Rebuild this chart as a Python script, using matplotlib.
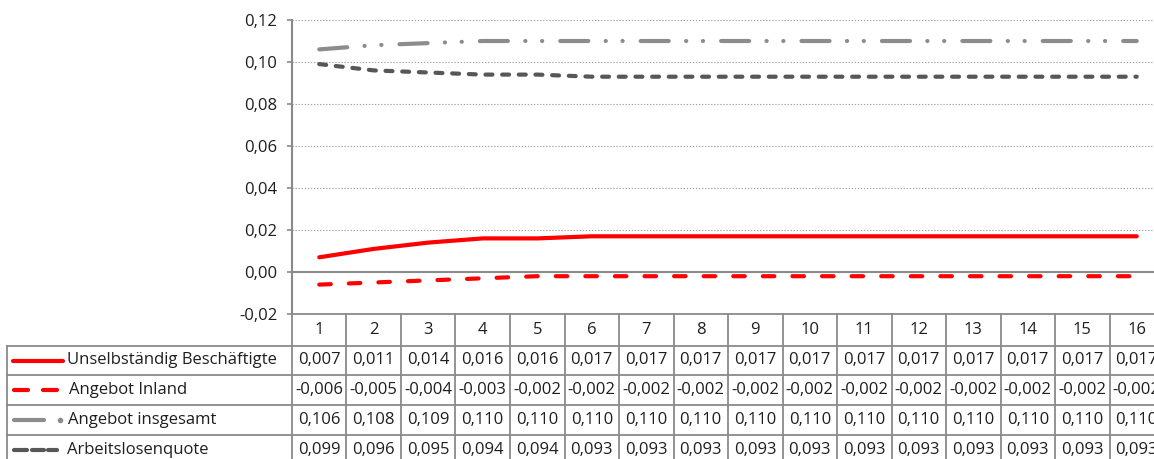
import matplotlib
matplotlib.use("Agg")
import matplotlib.pyplot as plt
import matplotlib.transforms as mtransforms

plt.rcParams['font.family'] = ['Open Sans', 'DejaVu Sans']
plt.rcParams['lines.scale_dashes'] = False

# ---- data -------------------------------------------------------------
periods = list(range(1, 17))
series_names = ["Unselbständig Beschäftigte", "Angebot Inland",
                "Angebot insgesamt", "Arbeitslosenquote"]
beschaeftigte = [0.007, 0.011, 0.014, 0.016, 0.016, 0.017, 0.017, 0.017,
                 0.017, 0.017, 0.017, 0.017, 0.017, 0.017, 0.017, 0.017]
angebot_inland = [-0.006, -0.005, -0.004, -0.003, -0.002, -0.002, -0.002, -0.002,
                  -0.002, -0.002, -0.002, -0.002, -0.002, -0.002, -0.002, -0.002]
angebot_insgesamt = [0.106, 0.108, 0.109, 0.110, 0.110, 0.110, 0.110, 0.110,
                     0.110, 0.110, 0.110, 0.110, 0.110, 0.110, 0.110, 0.110]
arbeitslosenquote = [0.099, 0.096, 0.095, 0.094, 0.094, 0.093, 0.093, 0.093,
                     0.093, 0.093, 0.093, 0.093, 0.093, 0.093, 0.093, 0.093]
y_ticks = [-0.02, 0.00, 0.02, 0.04, 0.06, 0.08, 0.10, 0.12]

series = [beschaeftigte, angebot_inland, angebot_insgesamt, arbeitslosenquote]

# ---- styles -----------------------------------------------------------
RED = '#FF0000'
GRAY = '#8C8C8C'
DARK = '#575757'
FRAME = '#8A8A8A'
TEXT = '#1E1E1E'
LW = 3.0
styles = [
    dict(color=RED, linestyle='-'),
    dict(color=RED, linestyle=(0, (8.3, 13.0))),
    dict(color=GRAY, linestyle=(0, (20.2, 12.5, 0.1, 12.0, 0.1, 13.0))),
    dict(color=DARK, linestyle=(0, (5.0, 7.0))),
]
FS = 12

W, H = 1154, 459
fig = plt.figure(figsize=(W / 100, H / 100), dpi=100)

# plot area in pixel layout (top-left origin)
AX_L, AX_R, AX_T, AX_B = 292, 1164, 20, 314
ax = fig.add_axes([AX_L / W, 1 - AX_B / H, (AX_R - AX_L) / W, (AX_B - AX_T) / H])
ax.set_xlim(0.5, len(periods) + 0.5)
ax.set_ylim(y_ticks[0], y_ticks[-1])

for s in ('top', 'right', 'bottom'):
    ax.spines[s].set_visible(False)
ax.spines['left'].set_color(FRAME)
ax.spines['left'].set_linewidth(1.5)

ax.set_xticks([])
ax.set_yticks(y_ticks)
ax.set_yticklabels([f"{v:.2f}".replace('.', ',') for v in y_ticks],
                   fontsize=FS, color=TEXT)
ax.tick_params(axis='y', length=3.6, width=1.2, color=FRAME, pad=7)

for v in y_ticks[2:]:
    ax.axhline(v, color='#A6A6A6', lw=0.8, linestyle=(0, (1.0, 1.2)), zorder=1)
ax.axhline(0.0, color=FRAME, lw=1.5, zorder=1)

for vals, st in zip(series, styles):
    ax.plot(periods, vals, lw=LW, solid_capstyle='round', dash_capstyle='round',
            solid_joinstyle='round', zorder=3, **st)

# ---- data table below the plot -----------------------------------------
trans = mtransforms.blended_transform_factory(ax.transData, ax.transAxes)
col_w = (AX_R - AX_L) / len(periods)


def fx(px):
    return 0.5 + (px - AX_L) / col_w


def fy(py):
    return (AX_B - py) / (AX_B - AX_T)


rows_px = [314, 346, 375, 405, 435, 465]
left_px = 7
x_left = fx(left_px)
x_right = len(periods) + 0.5

line_kw = dict(color=FRAME, lw=1.3, transform=trans, clip_on=False, zorder=2)
# horizontal rules
ax.plot([0.5, x_right], [fy(rows_px[0])] * 2, **line_kw)
for py in rows_px[1:5]:
    ax.plot([x_left, x_right], [fy(py)] * 2, **line_kw)
# vertical rules
for k in range(len(periods) + 1):
    ax.plot([0.5 + k] * 2, [fy(rows_px[0]), fy(470)], **line_kw)
ax.plot([x_left] * 2, [fy(rows_px[1]), fy(470)], **line_kw)

# header numbers
yc = fy((rows_px[0] + rows_px[1]) / 2)
for p in periods:
    ax.text(p, yc, str(p), ha='center', va='center', fontsize=FS, color=TEXT,
            transform=trans, clip_on=False)

# values
for r, vals in enumerate(series):
    yc = fy((rows_px[r + 1] + rows_px[r + 2]) / 2)
    for p, v in zip(periods, vals):
        ax.text(p, yc, f"{v:.3f}".replace('.', ','), ha='center', va='center',
                fontsize=FS, color=TEXT, transform=trans, clip_on=False)

# legend keys and names
key_segments = [
    [(13, 63)],
    [(14, 28), (43, 57)],
    [(14, 44), (60, 60)],
    [(14, 27), (32, 44), (48, 57)],
]
text_x = [67, 69, 68, 67]
for r, (name, st) in enumerate(zip(series_names, styles)):
    yc = fy((rows_px[r + 1] + rows_px[r + 2]) / 2)
    for a, b in key_segments[r]:
        if a == b:
            ax.plot([fx(a)], [yc], marker='o', ms=3, color=st['color'],
                    transform=trans, clip_on=False, zorder=3)
        else:
            ax.plot([fx(a), fx(b)], [yc, yc], color=st['color'], lw=LW,
                    solid_capstyle='round', transform=trans, clip_on=False, zorder=3)
    ax.text(fx(text_x[r]), yc, name, ha='left', va='center', fontsize=FS,
            color=TEXT, transform=trans, clip_on=False)

fig.savefig('out.png', dpi=100)
